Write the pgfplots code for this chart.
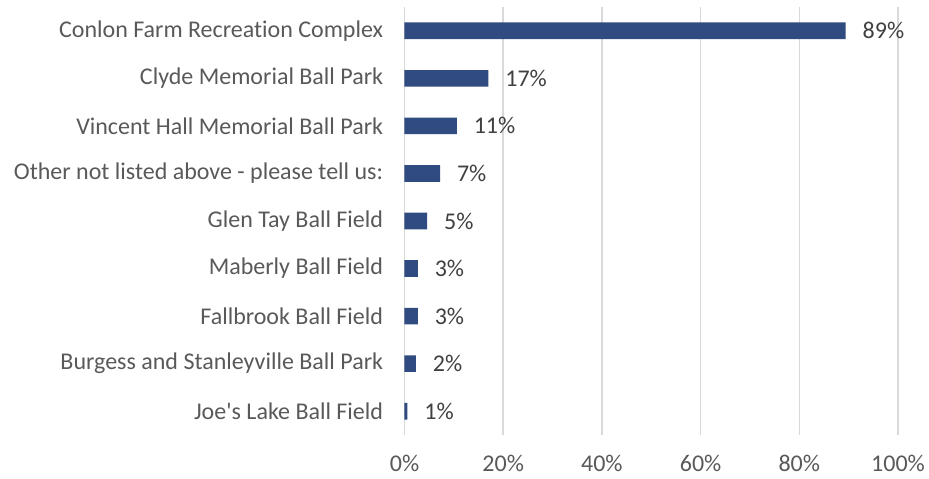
\documentclass[border=0pt]{standalone}
\usepackage{pgfplots}
\pgfplotsset{compat=1.18}
\usepackage{fontspec}
\setmainfont{Carlito}[Ligatures={TeX,NoCommon}]
\definecolor{barc}{RGB}{47,75,128}
\definecolor{axtext}{RGB}{89,89,89}
\definecolor{lbl}{RGB}{64,64,64}
\definecolor{gridc}{RGB}{217,217,217}
\begin{document}
\begin{tikzpicture}
\begin{axis}[
  scale only axis,
  width=246.75pt, height=214pt,
  xmin=0, xmax=100, ymin=-0.5, ymax=8.5,
  xtick={0,20,40,60,80,100},
  xticklabels={0\%,20\%,40\%,60\%,80\%,100\%},
  ytick={0,1,2,3,4,5,6,7,8},
  yticklabels={Joe\textquotesingle s Lake Ball Field,Burgess and Stanleyville Ball Park,Fallbrook Ball Field,Maberly Ball Field,Glen Tay Ball Field,Other not listed above - please tell us:,Vincent Hall Memorial Ball Park,Clyde Memorial Ball Park,Conlon Farm Recreation Complex},
  xmajorgrids,
  major grid style={draw=gridc, line width=0.75pt},
  axis line style={draw=none},
  major tick length=0pt,
  tick label style={font=\fontsize{12}{14}\selectfont, text=axtext, inner sep=0pt},
  yticklabel style={xshift=-10.5pt},
  xticklabel style={yshift=-10pt},
]
\addplot[xbar, bar width=0.35, fill=barc, draw=none,
  nodes near coords, point meta=explicit symbolic,
  every node near coord/.append style={font=\fontsize{12}{14}\selectfont, text=lbl, anchor=west, inner sep=0pt, xshift=8.3pt}]
coordinates {
  (0.6,0) [1\%]
  (2.3,1) [2\%]
  (2.7,2) [3\%]
  (2.7,3) [3\%]
  (4.6,4) [5\%]
  (7.2,5) [7\%]
  (10.6,6) [11\%]
  (17.0,7) [17\%]
  (89.4,8) [89\%]
};
\end{axis}
\pgfresetboundingbox
\path (current axis.south west) ++(-202.25pt,-21.5pt) rectangle ++(464.5pt,239pt);
\end{tikzpicture}
\end{document}
